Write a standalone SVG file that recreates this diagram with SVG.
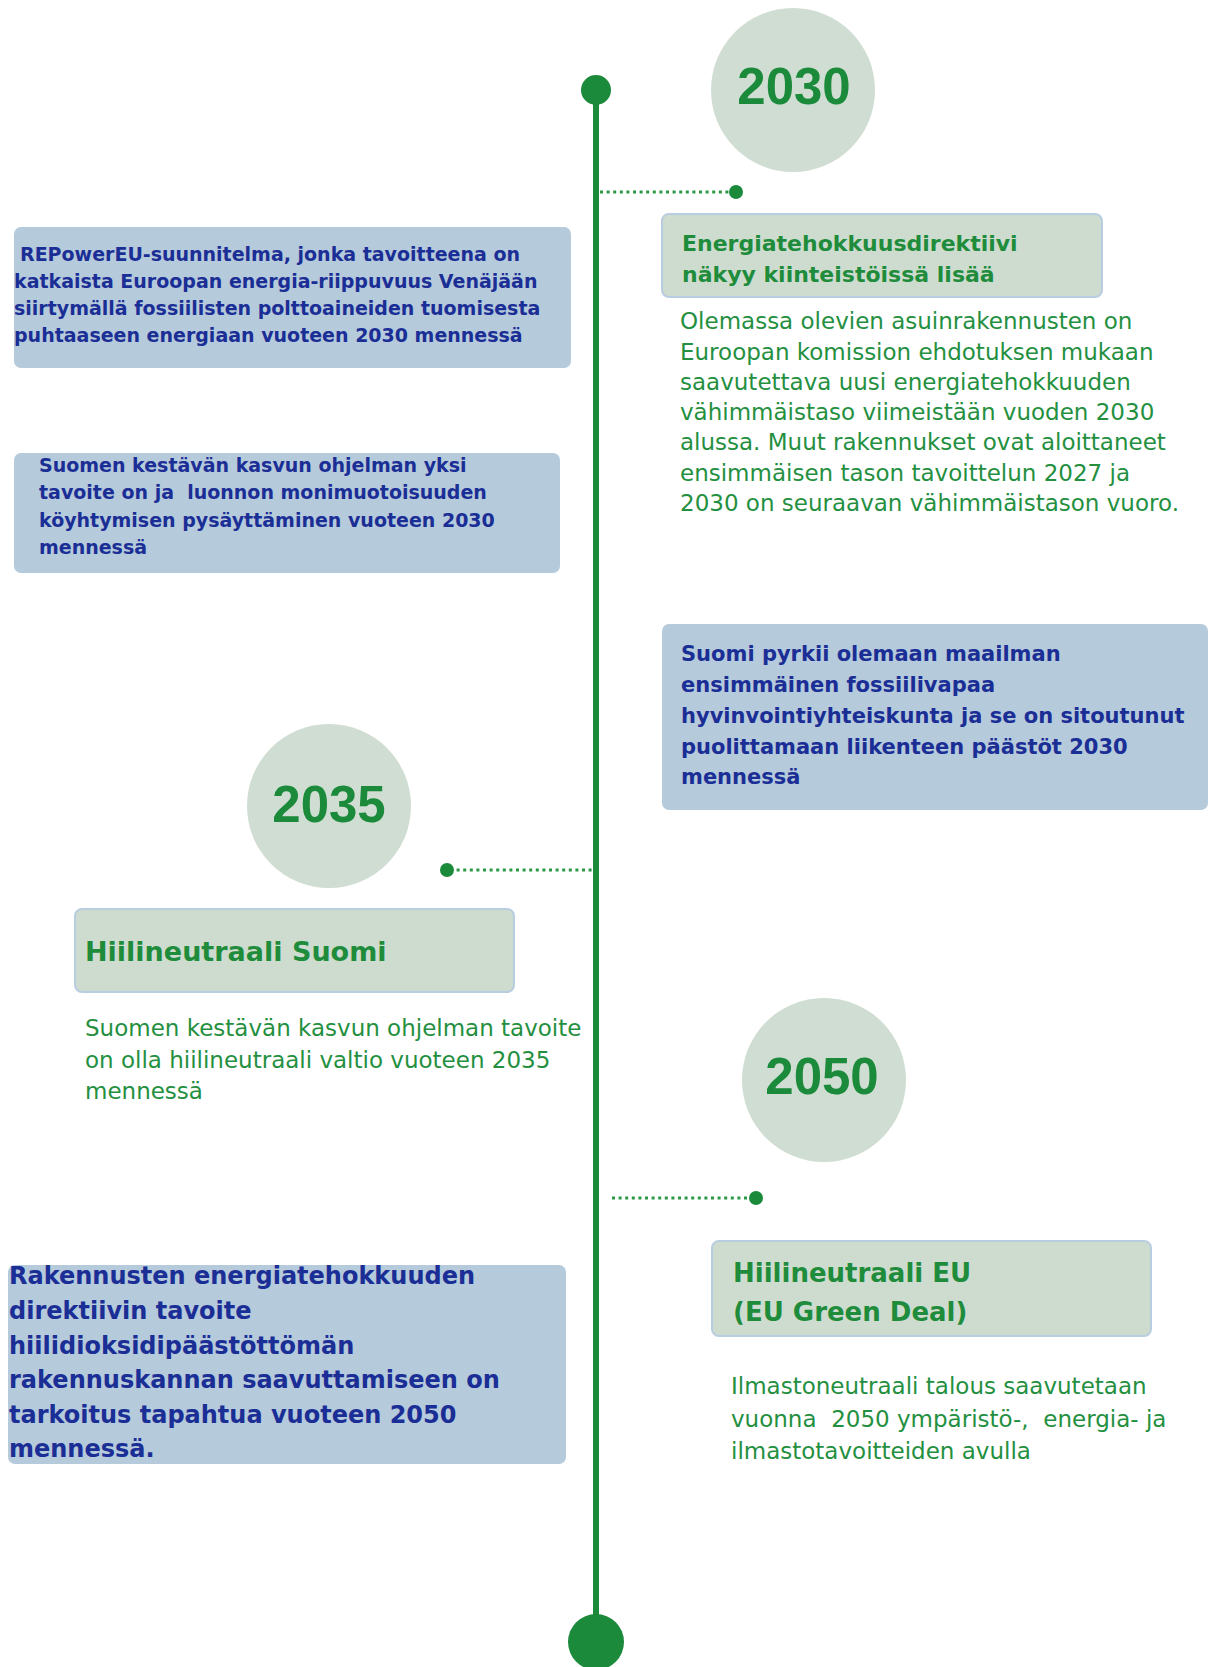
<svg xmlns="http://www.w3.org/2000/svg" width="1210" height="1667" viewBox="0 0 1210 1667">
  <style>
    .year { font-family: "Liberation Sans", Arial, sans-serif; font-weight: bold; font-size: 51px; fill: #1b8a3a; text-anchor: middle; }
    .yc { fill: #cfddd2; }
    .bbox { fill: #b5cadb; }
    .gbox { fill: #cedcd0; stroke: #b9cde0; stroke-width: 2; }
    .bt { font-family: "DejaVu Sans", "Noto Sans", sans-serif; font-weight: bold; fill: #1a2e96; white-space: pre; }
    .gh { font-family: "DejaVu Sans", "Noto Sans", sans-serif; font-weight: bold; fill: #1f8c3c; }
    .gt { font-family: "DejaVu Sans", "Noto Sans", sans-serif; font-size: 23px; fill: #24903f; white-space: pre; }
    .axis { stroke: #1b8a3a; stroke-width: 6; fill: none; }
    .dots { stroke: #2a9846; stroke-width: 3; stroke-dasharray: 3 3.6; fill: none; }
    .dot { fill: #1b8a3a; }
  </style>

  <g id="connectors">
    <line class="axis" x1="596" y1="90" x2="596" y2="1642"/>
    <circle class="dot" cx="596" cy="90" r="15"/>
    <circle class="dot" cx="596" cy="1642" r="28"/>
    <line class="dots" x1="600" y1="192" x2="734" y2="192"/>
    <circle class="dot" cx="736" cy="192" r="7"/>
    <line class="dots" x1="450" y1="870" x2="592" y2="870"/>
    <circle class="dot" cx="447" cy="870" r="7"/>
    <line class="dots" x1="612" y1="1198" x2="754" y2="1198"/>
    <circle class="dot" cx="756" cy="1198" r="7"/>
  </g>

  <g id="year-2030">
    <circle class="yc" cx="793" cy="90" r="82"/>
    <text class="year" x="794" y="104">2030</text>
  </g>

  <g id="energiatehokkuusdirektiivi">
    <rect class="gbox" x="662" y="214" width="440" height="83" rx="7"/>
    <text class="gh" font-size="22" x="682" y="251">Energiatehokkuusdirektiivi</text>
    <text class="gh" font-size="22" x="682" y="282">näkyy kiinteistöissä lisää</text>
  </g>

  <g id="energiatehokkuus-text">
    <text class="gt" x="680" y="329">Olemassa olevien asuinrakennusten on</text>
    <text class="gt" x="680" y="360">Euroopan komission ehdotuksen mukaan</text>
    <text class="gt" x="680" y="390">saavutettava uusi energiatehokkuuden</text>
    <text class="gt" x="680" y="420">vähimmäistaso viimeistään vuoden 2030</text>
    <text class="gt" x="680" y="450">alussa. Muut rakennukset ovat aloittaneet</text>
    <text class="gt" x="680" y="481">ensimmäisen tason tavoittelun 2027 ja</text>
    <text class="gt" x="680" y="511">2030 on seuraavan vähimmäistason vuoro.</text>
  </g>

  <g id="repowereu">
    <rect class="bbox" x="14" y="227" width="557" height="141" rx="7"/>
    <text class="bt" font-size="19" x="20" y="261">REPowerEU-suunnitelma, jonka tavoitteena on</text>
    <text class="bt" font-size="19" x="14" y="288">katkaista Euroopan energia-riippuvuus Venäjään</text>
    <text class="bt" font-size="19" x="14" y="315">siirtymällä fossiilisten polttoaineiden tuomisesta</text>
    <text class="bt" font-size="19" x="14" y="342">puhtaaseen energiaan vuoteen 2030 mennessä</text>
  </g>

  <g id="luonnon-monimuotoisuus">
    <rect class="bbox" x="14" y="453" width="546" height="120" rx="7"/>
    <text class="bt" font-size="19" x="39" y="472">Suomen kestävän kasvun ohjelman yksi</text>
    <text class="bt" font-size="19" x="39" y="499">tavoite on ja  luonnon monimuotoisuuden</text>
    <text class="bt" font-size="19" x="39" y="527">köyhtymisen pysäyttäminen vuoteen 2030</text>
    <text class="bt" font-size="19" x="39" y="554">mennessä</text>
  </g>

  <g id="fossiilivapaa">
    <rect class="bbox" x="662" y="624" width="546" height="186" rx="7"/>
    <text class="bt" font-size="21" x="681" y="661">Suomi pyrkii olemaan maailman</text>
    <text class="bt" font-size="21" x="681" y="692">ensimmäinen fossiilivapaa</text>
    <text class="bt" font-size="21" x="681" y="723">hyvinvointiyhteiskunta ja se on sitoutunut</text>
    <text class="bt" font-size="21" x="681" y="754">puolittamaan liikenteen päästöt 2030</text>
    <text class="bt" font-size="21" x="681" y="784">mennessä</text>
  </g>

  <g id="year-2035">
    <circle class="yc" cx="329" cy="806" r="82"/>
    <text class="year" x="329" y="822">2035</text>
  </g>

  <g id="hiilineutraali-suomi">
    <rect class="gbox" x="75" y="909" width="439" height="83" rx="7"/>
    <text class="gh" font-size="27" x="85" y="961">Hiilineutraali Suomi</text>
  </g>

  <g id="hiilineutraali-suomi-text">
    <text class="gt" x="85" y="1036">Suomen kestävän kasvun ohjelman tavoite</text>
    <text class="gt" x="85" y="1068">on olla hiilineutraali valtio vuoteen 2035</text>
    <text class="gt" x="85" y="1099">mennessä</text>
  </g>

  <g id="year-2050">
    <circle class="yc" cx="824" cy="1080" r="82"/>
    <text class="year" x="822" y="1094">2050</text>
  </g>

  <g id="hiilineutraali-eu">
    <rect class="gbox" x="712" y="1241" width="439" height="95" rx="7"/>
    <text class="gh" font-size="26" x="733" y="1282">Hiilineutraali EU</text>
    <text class="gh" font-size="26" x="733" y="1321">(EU Green Deal)</text>
  </g>

  <g id="hiilineutraali-eu-text">
    <text class="gt" x="731" y="1394">Ilmastoneutraali talous saavutetaan</text>
    <text class="gt" x="731" y="1427">vuonna  2050 ympäristö-,  energia- ja</text>
    <text class="gt" x="731" y="1459">ilmastotavoitteiden avulla</text>
  </g>

  <g id="rakennusten-direktiivi">
    <rect class="bbox" x="8" y="1265" width="558" height="199" rx="7"/>
    <text class="bt" font-size="24" x="9" y="1284">Rakennusten energiatehokkuuden</text>
    <text class="bt" font-size="24" x="9" y="1319">direktiivin tavoite</text>
    <text class="bt" font-size="24" x="9" y="1354">hiilidioksidipäästöttömän</text>
    <text class="bt" font-size="24" x="9" y="1388">rakennuskannan saavuttamiseen on</text>
    <text class="bt" font-size="24" x="9" y="1423">tarkoitus tapahtua vuoteen 2050</text>
    <text class="bt" font-size="24" x="9" y="1457">mennessä.</text>
  </g>
</svg>
